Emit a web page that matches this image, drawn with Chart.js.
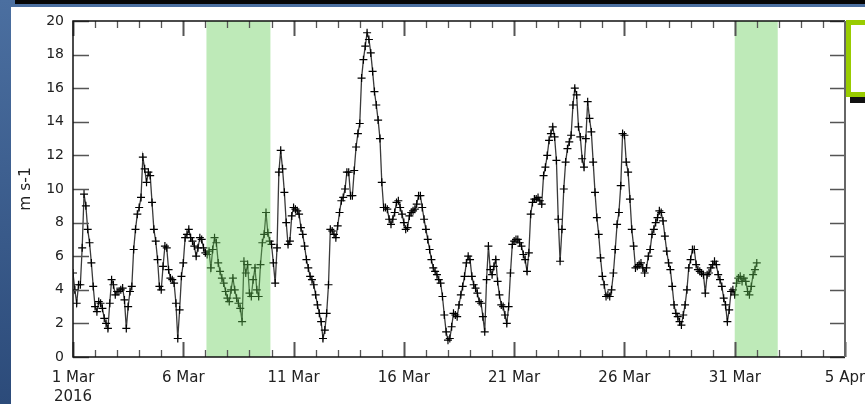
<!DOCTYPE html>
<html>
<head>
<meta charset="utf-8">
<script src="https://cdn.jsdelivr.net/npm/chart.js@4.4.1/dist/chart.umd.min.js"></script>
<style>
  html, body { margin: 0; padding: 0; width: 865px; height: 404px; overflow: hidden; }
  body { position: relative; background: linear-gradient(#4b6fa0, #2c4b7a); }
  #topbar { position: absolute; left: 15px; right: 0; top: 0; height: 4px; background: #050505; }
  #panel { position: absolute; left: 11px; top: 7px; right: 0; bottom: 0; background: #fff; }
  #chart { position: absolute; left: 0; top: 0; }
  #legendBox { position: absolute; left: 846px; top: 20px; width: 40px; height: 67px;
    border: 5px solid #99cc00; background: #fff; box-shadow: 4px 6px 0 #111; }
</style>
</head>
<body>
<div id="topbar"></div>
<div id="panel"></div>
<canvas id="chart" width="865" height="404"></canvas>
<div id="legendBox"></div>
<script>
// wind speed, one value every 2 hours from 1 Mar 2016 00:00 (one row per day)
const stepHours = 2;
const windSpeed = [
  5.0, 4.0, 3.2, 4.3, 4.3, 6.5, 9.7, 9.0, 7.6, 6.8, 5.6, 4.2,
  3.0, 2.7, 3.3, 3.2, 2.9, 2.3, 2.0, 1.7, 3.2, 4.6, 4.3, 3.7,
  3.9, 3.9, 4.0, 4.1, 3.4, 1.7, 3.0, 3.9, 4.2, 6.4, 7.6, 8.5,
  8.9, 9.5, 11.9, 11.2, 10.4, 11.0, 10.8, 9.2, 7.6, 6.9, 5.8, 4.2,
  4.0, 5.4, 6.6, 6.5, 5.2, 4.7, 4.6, 4.4, 3.2, 1.1, 2.8, 4.8,
  5.6, 7.1, 7.3, 7.6, 7.1, 6.9, 6.6, 6.0, 6.5, 7.1, 7.0, 6.5,
  6.2, 6.1, 6.3, 5.3, 6.4, 7.1, 6.8, 5.6, 5.1, 4.7, 4.4, 3.9,
  3.5, 3.3, 4.0, 4.7, 4.0, 3.5, 3.2, 2.9, 2.1, 5.7, 5.0, 5.5,
  3.8, 3.6, 4.6, 5.3, 4.0, 3.6, 5.5, 6.8, 7.3, 8.6, 7.4, 6.9,
  6.7, 5.6, 4.4, 6.5, 11.0, 12.3, 11.2, 9.8, 8.0, 6.7, 6.9, 8.4,
  8.9, 8.8, 8.7, 8.5, 7.7, 7.3, 6.6, 5.8, 5.3, 4.8, 4.6, 4.3,
  3.7, 3.1, 2.6, 2.1, 1.1, 1.6, 2.6, 4.3, 7.6, 7.5, 7.3, 7.1,
  7.8, 8.6, 9.3, 9.5, 10.0, 11.0, 11.0, 9.6, 9.6, 11.1, 12.5, 13.3,
  13.9, 16.6, 17.7, 18.5, 19.3, 18.9, 18.1, 17.0, 15.8, 15.0, 14.1, 13.0,
  10.4, 8.9, 8.9, 8.8, 8.2, 7.9, 8.2, 8.6, 9.2, 9.3, 8.9, 8.5,
  8.0, 7.6, 7.7, 8.4, 8.6, 8.7, 8.8, 9.1, 9.6, 9.6, 8.9, 8.2,
  7.6, 7.0, 6.4, 5.8, 5.3, 5.1, 4.9, 4.6, 4.4, 3.6, 2.5, 1.5,
  1.0, 1.1, 1.8, 2.6, 2.5, 2.4, 3.1, 3.7, 4.2, 4.8, 5.6, 6.0,
  5.8, 4.8, 4.3, 4.1, 3.8, 3.3, 3.2, 2.4, 1.5, 4.6, 6.6, 5.2,
  4.9, 5.4, 5.8, 4.5, 3.7, 3.1, 3.0, 2.5, 2.0, 3.0, 5.0, 6.7,
  6.9, 7.0, 7.0, 6.8, 6.6, 6.1, 5.8, 5.1, 6.2, 8.5, 9.2, 9.4,
  9.4, 9.5, 9.3, 9.1, 10.8, 11.3, 12.0, 12.9, 13.3, 13.7, 13.1, 11.7,
  8.2, 5.7, 7.6, 10.0, 11.6, 12.4, 12.8, 13.2, 15.0, 16.0, 15.6, 13.7,
  13.1, 11.8, 11.3, 13.0, 15.2, 14.2, 13.4, 11.6, 9.8, 8.3, 7.3, 5.9,
  4.8, 4.3, 3.6, 3.7, 3.6, 4.0, 5.0, 6.4, 7.9, 8.6, 10.2, 13.3,
  13.2, 11.6, 11.0, 9.4, 7.6, 6.6, 5.3, 5.4, 5.5, 5.6, 5.3, 5.0,
  5.3, 6.0, 6.4, 7.3, 7.6, 8.0, 8.3, 8.7, 8.6, 8.1, 7.2, 6.3,
  5.6, 5.2, 4.2, 3.1, 2.6, 2.4, 2.1, 1.9, 2.5, 3.1, 4.0, 5.3,
  5.8, 6.4, 6.4, 5.5, 5.2, 5.1, 5.0, 4.9, 3.8, 4.9, 5.0, 5.3,
  5.5, 5.7, 5.5, 4.9, 4.6, 4.2, 3.5, 3.1, 2.1, 2.8, 3.9, 4.0,
  3.7, 4.4, 4.7, 4.8, 4.5, 4.7, 4.5, 3.9, 3.7, 4.2, 4.9, 5.2,
  5.6
];

// x axis: days since 1 Mar, labelled every 5 days
const tickLabels = ['1 Mar', '6 Mar', '11 Mar', '16 Mar', '21 Mar', '26 Mar', '31 Mar', '5 Apr'];
const yearLabel = '2016';

// shaded periods (days since 1 Mar)
const shadeStart = [6.05, 30.0];
const shadeEnd = [8.95, 31.95];

const points = windSpeed.map((v, i) => ({ x: i * stepHours / 24, y: v }));

const frame = {
  id: 'frame',
  afterDatasetsDraw(chart) {
    const { ctx, chartArea: a, scales: { x } } = chart;
    ctx.save();
    ctx.fillStyle = 'rgba(100, 205, 85, 0.42)';
    shadeStart.forEach((s, i) => {
      const x0 = x.getPixelForValue(s);
      const x1 = x.getPixelForValue(shadeEnd[i]);
      ctx.fillRect(x0, a.top, x1 - x0, a.bottom - a.top);
    });
    ctx.restore();
  },
  afterDraw(chart) {
    const { ctx, chartArea: a, scales: { x, y } } = chart;
    ctx.save();
    ctx.strokeStyle = '#555';
    // day ticks, pointing inwards
    for (let d = 0; d <= 35; d++) {
      const px = Math.round(x.getPixelForValue(d)) + 0.5;
      const major = d % 5 === 0;
      const len = major ? 15 : 7;
      ctx.lineWidth = major ? 2 : 1.3;
      ctx.beginPath();
      ctx.moveTo(px, a.bottom); ctx.lineTo(px, a.bottom - len);
      ctx.moveTo(px, a.top); ctx.lineTo(px, a.top + len);
      ctx.stroke();
    }
    ctx.lineWidth = 1.5;
    for (let v = 0; v <= 20; v += 2) {
      const py = Math.round(y.getPixelForValue(v)) + 0.5;
      ctx.beginPath();
      ctx.moveTo(a.left, py); ctx.lineTo(a.left + 16, py);
      ctx.moveTo(a.right, py); ctx.lineTo(a.right - 15, py);
      ctx.stroke();
    }
    // box
    ctx.strokeStyle = '#111';
    ctx.lineWidth = 1.5;
    ctx.beginPath();
    ctx.moveTo(a.right, a.top); ctx.lineTo(a.left, a.top);
    ctx.lineTo(a.left, a.bottom); ctx.lineTo(a.right, a.bottom);
    ctx.stroke();
    ctx.strokeStyle = '#666';
    ctx.lineWidth = 2;
    ctx.beginPath();
    ctx.moveTo(a.right, a.top); ctx.lineTo(a.right, a.bottom);
    ctx.stroke();
    ctx.restore();
  }
};

new Chart(document.getElementById('chart'), {
  type: 'line',
  data: {
    datasets: [{
      data: points,
      borderColor: '#3a3a3a',
      borderWidth: 1.3,
      pointStyle: 'cross',
      pointRadius: 4,
      pointBorderColor: '#000',
      pointBorderWidth: 1.2,
      tension: 0,
      fill: false
    }]
  },
  options: {
    responsive: false,
    animation: false,
    events: [],
    layout: { padding: { left: 0, top: 21, right: 20, bottom: 0 } },
    plugins: { legend: { display: false }, tooltip: { enabled: false } },
    scales: {
      x: {
        type: 'linear',
        min: 0,
        max: 35,
        grid: { display: false, drawTicks: false },
        border: { display: false },
        ticks: {
          stepSize: 5,
          autoSkip: false,
          maxRotation: 0,
          padding: 11,
          color: '#222',
          font: { family: 'DejaVu Sans', size: 15, lineHeight: 1.3 },
          callback: (v) => v === 0 ? [tickLabels[0], yearLabel] : tickLabels[v / 5]
        },
        afterFit: (s) => { s.height = 47; s.paddingLeft = 0; s.paddingRight = 0; }
      },
      y: {
        min: 0,
        max: 20,
        grid: { display: false, drawTicks: false },
        border: { display: false },
        ticks: {
          stepSize: 2,
          padding: 9,
          color: '#222',
          font: { family: 'DejaVu Sans', size: 14 }
        },
        title: {
          display: true,
          text: 'm s-1',
          color: '#222',
          padding: { top: 17 },
          font: { family: 'DejaVu Sans', size: 15.5 }
        },
        afterFit: (s) => { s.width = 73; }
      }
    }
  },
  plugins: [frame]
});
</script>
</body>
</html>
